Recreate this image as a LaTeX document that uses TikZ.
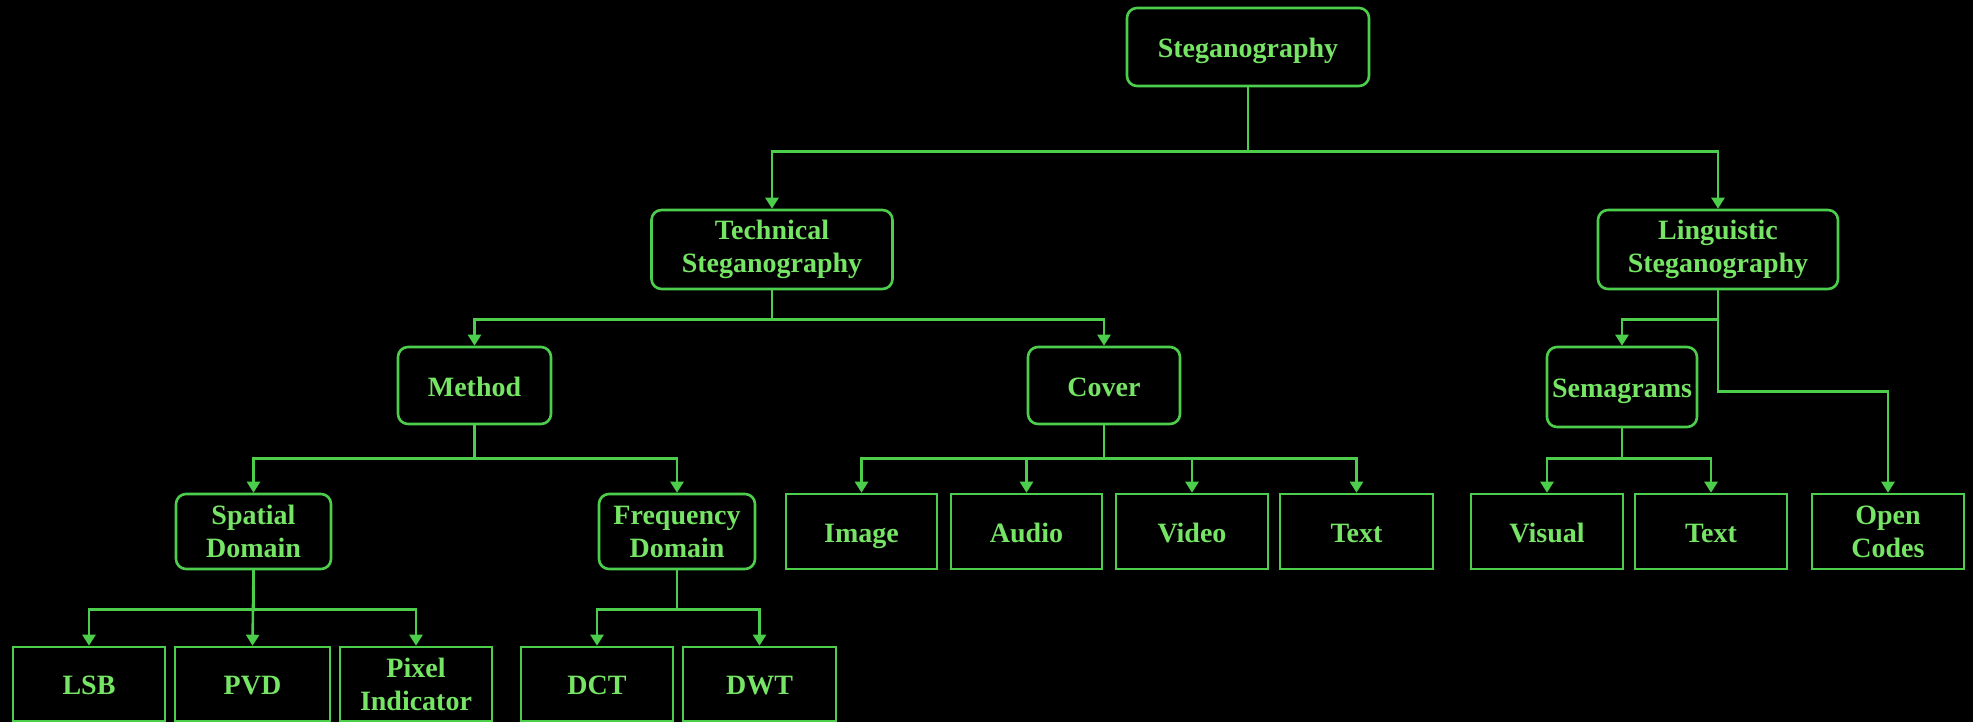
\documentclass[tikz,border=0pt]{standalone}
\usepackage{fontspec}
\setmainfont{Liberation Serif}
\usetikzlibrary{arrows.meta}
\definecolor{lnc}{RGB}{76,205,76}
\definecolor{txc}{RGB}{118,228,100}
\tikzset{
  base/.style={draw=lnc, line width=2.6pt, text=txc, align=center, inner sep=0pt,
    font=\fontsize{28}{33}\selectfont\bfseries},
  rbox/.style={base, rounded corners=10pt},
  leaf/.style={base, minimum height=75pt},
  oneline/.style={text height=21pt, text depth=0pt},
  arr/.style={draw=lnc, line width=2.6pt, -{Triangle[length=11pt,width=13pt]}},
}
\begin{document}
\begin{tikzpicture}[x=1pt,y=-1pt]
\fill[black] (0,0) rectangle (1973,722);
\useasboundingbox (0,0) rectangle (1973,722);
% rounded nodes
\node[rbox, oneline, minimum width=242pt, minimum height=78pt] (root) at (1248,47) {Steganography};
\node[rbox, minimum width=241pt, minimum height=79pt] (tech) at (772,249.5) {Technical\\Steganography};
\node[rbox, minimum width=240pt, minimum height=79pt] (ling) at (1718,249.5) {Linguistic\\Steganography};
\node[rbox, oneline, minimum width=153pt, minimum height=77pt] (method) at (474.5,385.5) {Method};
\node[rbox, oneline, minimum width=152pt, minimum height=77pt] (cover) at (1104,385.5) {Cover};
\node[rbox, oneline, minimum width=150pt, minimum height=80pt] (sema) at (1622,387) {Semagrams};
\node[rbox, minimum width=155pt, minimum height=75pt] (spatial) at (253.5,531.5) {Spatial\\Domain};
\node[rbox, minimum width=156pt, minimum height=75pt] (freq) at (677,531.5) {Frequency\\Domain};
% leaves row 4
\node[leaf, oneline, minimum width=151pt] (image) at (861.5,531.5) {Image};
\node[leaf, oneline, minimum width=151pt] (audio) at (1026.5,531.5) {Audio};
\node[leaf, oneline, minimum width=152pt] (video) at (1192,531.5) {Video};
\node[leaf, oneline, minimum width=153pt] (text1) at (1356.5,531.5) {Text};
\node[leaf, oneline, minimum width=152pt] (visual) at (1547,531.5) {Visual};
\node[leaf, oneline, minimum width=152pt] (text2) at (1711,531.5) {Text};
\node[leaf, minimum width=152pt] (open) at (1888,531.5) {Open\\Codes};
% leaves bottom row
\node[leaf, oneline, minimum width=152pt, minimum height=74pt] (lsb) at (89,684) {LSB};
\node[leaf, oneline, minimum width=155pt, minimum height=74pt] (pvd) at (252.5,684) {PVD};
\node[leaf, minimum width=152pt, minimum height=74pt] (pixel) at (416,684) {Pixel\\Indicator};
\node[leaf, oneline, minimum width=152pt, minimum height=74pt] (dct) at (597,684) {DCT};
\node[leaf, oneline, minimum width=153pt, minimum height=74pt] (dwt) at (759.5,684) {DWT};
% connectors
\draw[arr] (root.south) -- ++(0,64) -| (tech.north);
\draw[arr] (root.south) -- ++(0,64) -| (ling.north);
\draw[arr] (tech.south) -- ++(0,29) -| (method.north);
\draw[arr] (tech.south) -- ++(0,29) -| (cover.north);
\draw[arr] (ling.south) -- ++(0,29) -| (sema.north);
\draw[arr] (ling.south) -- ++(0,101) -| (open.north);
\draw[arr] (method.south) -- ++(0,33) -| (spatial.north);
\draw[arr] (method.south) -- ++(0,33) -| (freq.north);
\draw[arr] (cover.south) -- ++(0,33) -| (image.north);
\draw[arr] (cover.south) -- ++(0,33) -| (audio.north);
\draw[arr] (cover.south) -- ++(0,33) -| (video.north);
\draw[arr] (cover.south) -- ++(0,33) -| (text1.north);
\draw[arr] (sema.south) -- ++(0,30) -| (visual.north);
\draw[arr] (sema.south) -- ++(0,30) -| (text2.north);
\draw[arr] (spatial.south) -- ++(0,39) -| (lsb.north);
\draw[arr] (spatial.south) -- (pvd.north);
\draw[arr] (spatial.south) -- ++(0,39) -| (pixel.north);
\draw[arr] (freq.south) -- ++(0,39) -| (dct.north);
\draw[arr] (freq.south) -- ++(0,39) -| (dwt.north);
\end{tikzpicture}
\end{document}
